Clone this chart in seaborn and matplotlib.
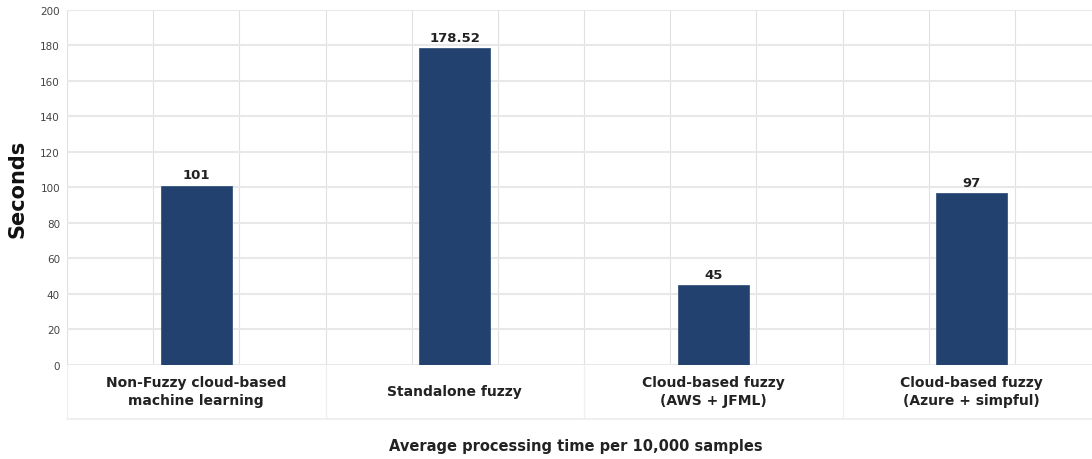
import matplotlib
matplotlib.use("Agg")
import matplotlib.pyplot as plt
import matplotlib.transforms as mtransforms
import seaborn as sns
import numpy as np
import pandas as pd

categories = ["Non-Fuzzy cloud-based\nmachine learning", "Standalone fuzzy",
              "Cloud-based fuzzy\n(AWS + JFML)", "Cloud-based fuzzy\n(Azure + simpful)"]
seconds = [101, 178.52, 45, 97]
y_ticks = [0, 20, 40, 60, 80, 100, 120, 140, 160, 180, 200]
x_title = "Average processing time per 10,000 samples"
y_title = "Seconds"

sns.set_theme(style="white")
plt.rcParams['font.family'] = ['DejaVu Sans']

W, H = 1092, 460
fig = plt.figure(figsize=(W / 100, H / 100), dpi=100)
left, right, top, bottom = 67, 1101, 11, 365.7
ax = fig.add_axes([left / W, (H - bottom) / H, (right - left) / W, (bottom - top) / H])

df = pd.DataFrame({"cat": categories, "sec": seconds})
bar_color = "#22416f"
sns.barplot(data=df, x="cat", y="sec", color=bar_color, width=0.275, ax=ax,
            saturation=1, edgecolor="#3a5680", linewidth=0.6)

ax.set_xlim(-0.5, 3.5)
ax.set_ylim(0, 200)
ax.set_yticks(y_ticks)
ax.set_yticklabels([str(t) for t in y_ticks], fontsize=7.5, color="#444444")
ax.tick_params(axis="y", length=0, pad=5)

# grid
ax.set_xticks([-0.5 + k / 3 for k in range(13)], minor=True)
ax.grid(axis="y", which="major", color="#e8e8e8", linewidth=1.5)
ax.grid(axis="x", which="minor", color="#e0e0e0", linewidth=0.8)
ax.set_axisbelow(True)
for s in ax.spines.values():
    s.set_visible(False)

ax.set_xticks(range(len(categories)))
ax.set_xticklabels(categories, fontsize=10, fontweight="bold", color="#222222")
ax.tick_params(axis="x", which="both", length=0, pad=19)
for lbl in ax.get_xticklabels():
    lbl.set_va("center")
    lbl.set_multialignment("center")
    lbl.set_linespacing(1.3)

ax.set_xlabel("")
ax.set_ylabel("")

# label box under axes
trans = mtransforms.blended_transform_factory(ax.transData, ax.transAxes)
ybox = -(420 - bottom) / (bottom - top)
ax.plot([-0.5, 3.5], [ybox, ybox], transform=trans, color="#ececec", lw=1.2, clip_on=False)
for xb in [-0.5, 0.5, 1.5, 2.5]:
    ax.plot([xb, xb], [0, ybox], transform=trans, color="#f0f0f0", lw=1.0, clip_on=False)

# bar labels
for cont in ax.containers:
    ax.bar_label(cont, labels=[f"{v:g}" for v in seconds], padding=3,
                 fontsize=9.5, fontweight="bold", color="#222222")

fig.text(576 / W, 1 - 447 / H, x_title, ha="center", va="center",
         fontsize=10.5, fontweight="bold", color="#222222")
fig.text(18 / W, 1 - 189 / H, y_title, ha="center", va="center", rotation=90,
         fontsize=15, fontweight="bold", color="#111111")

fig.savefig("out.png", dpi=100)
